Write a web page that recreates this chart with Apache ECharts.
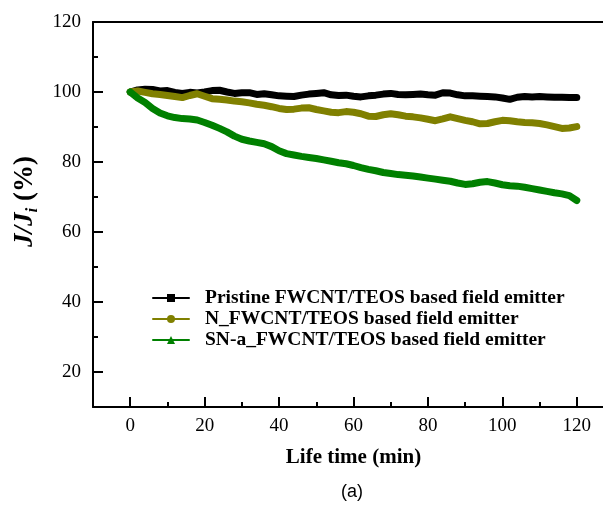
<!DOCTYPE html>
<html>
<head>
<meta charset="utf-8">
<script src="https://cdn.jsdelivr.net/npm/echarts@6/dist/echarts.min.js"></script>
<style>
html,body{margin:0;padding:0;background:#fff;overflow:hidden;width:603px;height:511px;}
#chart{width:614px;height:511px;}
</style>
</head>
<body>
<div id="chart"></div>
<script>
// ---- data ----
const times = [0,2,4,6,8,10,12,14,16,18,20,22,24,26,28,30,32,34,36,38,40,42,44,46,48,50,52,54,56,58,60,62,64,66,68,70,72,74,76,78,80,82,84,86,88,90,92,94,96,98,100,102,104,106,108,110,112,114,116,118,120];
const pristine = [100,100.6,100.8,100.7,100.3,100.4,99.9,99.6,99.9,99.7,100.0,100.4,100.5,100.0,99.6,99.8,99.8,99.3,99.5,99.2,98.9,98.8,98.7,99.1,99.4,99.6,99.8,99.2,99.0,99.1,98.8,98.6,98.9,99.1,99.4,99.6,99.3,99.2,99.3,99.4,99.2,99.1,99.8,99.7,99.2,98.9,98.9,98.8,98.7,98.6,98.3,97.9,98.5,98.7,98.6,98.7,98.6,98.5,98.5,98.4,98.4];
const nFwcnt = [100,100.3,99.9,99.5,99.3,99.0,98.7,98.4,99.0,99.5,98.8,98.1,97.9,97.7,97.4,97.2,96.9,96.5,96.2,95.8,95.3,95.0,95.1,95.4,95.5,95.0,94.6,94.2,94.1,94.4,94.2,93.8,93.1,93.0,93.5,93.8,93.5,93.1,92.9,92.6,92.2,91.8,92.3,92.9,92.4,91.9,91.5,90.9,91.0,91.5,91.9,91.8,91.5,91.3,91.2,91.0,90.6,90.1,89.6,89.7,90.1];
const snaFwcnt = [100,98.3,97.0,95.3,94.0,93.2,92.7,92.4,92.3,92.0,91.3,90.5,89.6,88.6,87.4,86.5,86.0,85.6,85.2,84.4,83.2,82.4,82.0,81.6,81.3,81.0,80.6,80.2,79.8,79.5,79.0,78.4,77.9,77.5,77.0,76.7,76.4,76.2,76.0,75.7,75.4,75.1,74.8,74.5,74.0,73.6,73.8,74.2,74.4,74.0,73.5,73.2,73.1,72.8,72.4,72.0,71.6,71.2,70.9,70.4,69.0];
const seriesNames = ['Pristine FWCNT/TEOS based field emitter','N_FWCNT/TEOS based field emitter','SN-a_FWCNT/TEOS based field emitter'];
const xTickLabels = [0,20,40,60,80,100,120];
const yTickLabels = [20,40,60,80,100,120];
const xRange = [-10, 130];
const yRange = [10, 120];
const tickStep = 20;

const serif = '"Liberation Serif","Times New Roman",serif';
const pair = (vals) => times.map((t, i) => [t, vals[i]]);

// layout of the plot box (pixels); the chart is a bit wider than the window so the right edge is cut off
const W = 614, H = 511;
const gLeft = 93, gTop = 22, gRight = 0, gBottom = 104;
const pxPerX = (W - gLeft - gRight) / (xRange[1] - xRange[0]);
const pxPerY = (H - gTop - gBottom) / (yRange[1] - yRange[0]);
const majXLeft = gLeft + (xTickLabels[0] - xRange[0]) * pxPerX;
const majYBottom = gBottom + (yTickLabels[0] - yRange[0]) * pxPerY;
const majLen = 10, minLen = 5;

const chart = echarts.init(document.getElementById('chart'), null, {renderer:'canvas'});
const axLine = {show:true, onZero:false, lineStyle:{color:'#000', width:2}};
const noLine = {show:false, onZero:false};
const tick = (len) => ({show:true, inside:true, length:len, lineStyle:{color:'#000', width:2}});
const hidden = (grid, min, max) => ({type:'value', gridIndex:grid, min:min, max:max, show:false, splitLine:{show:false}});
// x tick strips: short grids sitting on the x axis whose split lines act as the tick marks
const tickStripX = (grid, min) => ({type:'value', gridIndex:grid, min:min, max:xRange[1], interval:tickStep,
  axisLine:noLine, axisTick:{show:false}, axisLabel:{show:false},
  splitLine:{show:true, showMinLine:true, showMaxLine:true, lineStyle:{color:'#000', width:2}}});

chart.setOption({
  animation:false,
  backgroundColor:'#fff',
  grid:[
    {left:gLeft, top:gTop, right:gRight, bottom:gBottom},
    {left:majXLeft, top:H - gBottom - majLen, right:gRight, bottom:gBottom},
    {left:gLeft, top:gTop, right:gRight, bottom:majYBottom},
    {left:gLeft, top:H - gBottom - minLen, right:gRight, bottom:gBottom}
  ],
  legend:{
    orient:'vertical', left:147, top:283,
    itemWidth:36, itemHeight:10, itemGap:1,
    lineStyle:{width:2},
    textStyle:{fontFamily:serif, fontWeight:'bold', fontSize:19.5, color:'#000', padding:[0,0,0,11]},
    data:seriesNames
  },
  xAxis:[
    {type:'value', gridIndex:0, min:xRange[0], max:xRange[1], interval:tickStep, position:'bottom',
     axisLine:axLine, axisTick:{show:false},
     axisLabel:{customValues:xTickLabels, fontFamily:serif, fontSize:19, color:'#000', margin:10},
     splitLine:{show:false},
     name:'Life time (min)', nameLocation:'middle', nameGap:40,
     nameTextStyle:{fontFamily:serif, fontWeight:'bold', fontSize:21, color:'#000'}},
    {type:'value', gridIndex:0, min:xRange[0], max:xRange[1], position:'top',
     axisLine:axLine, axisTick:{show:false}, axisLabel:{show:false}, splitLine:{show:false}},
    tickStripX(1, xTickLabels[0]),
    hidden(2, xRange[0], xRange[1]),
    tickStripX(3, xRange[0])
  ],
  yAxis:[
    {type:'value', gridIndex:0, min:yRange[0], max:yRange[1], interval:tickStep, position:'left',
     axisLine:axLine, axisTick:tick(minLen),
     axisLabel:{customValues:yTickLabels, fontFamily:serif, fontSize:19, color:'#000', margin:12},
     splitLine:{show:false},
     name:'{b|J/J}{s|i}{n| (%)}', nameLocation:'middle', nameGap:48, nameRotate:90,
     nameTextStyle:{
       fontFamily:serif, fontSize:26, color:'#000', padding:[0,0,0,26],
       rich:{
         b:{fontFamily:serif, fontSize:27, fontWeight:'bold', fontStyle:'italic', color:'#000', lineHeight:34, verticalAlign:'middle'},
         s:{fontFamily:serif, fontSize:17, fontWeight:'bold', fontStyle:'italic', color:'#000', lineHeight:18, verticalAlign:'bottom'},
         n:{fontFamily:serif, fontSize:27, fontWeight:'bold', color:'#000', lineHeight:34, verticalAlign:'middle'}
       }
     }},
    hidden(1, 0, 1),
    {type:'value', gridIndex:2, min:yTickLabels[0], max:yRange[1], interval:tickStep, position:'left',
     axisLine:noLine, axisTick:tick(majLen), axisLabel:{show:false}, splitLine:{show:false}},
    hidden(3, 0, 1)
  ],
  graphic:[{
    type:'text', left:341, top:483,
    style:{text:'(a)', font:'18px "Liberation Sans", Arial, sans-serif', fill:'#000'}
  }],
  series:[
    {name:seriesNames[0], type:'line', xAxisIndex:0, yAxisIndex:0, data:pair(pristine), showSymbol:false, symbol:'rect', symbolSize:9,
     color:'#000000', lineStyle:{width:7, color:'#000000', join:'round', cap:'round'}},
    {name:seriesNames[1], type:'line', xAxisIndex:0, yAxisIndex:0, data:pair(nFwcnt), showSymbol:false, symbol:'circle', symbolSize:8,
     color:'#808000', lineStyle:{width:7, color:'#808000', join:'round', cap:'round'}},
    {name:seriesNames[2], type:'line', xAxisIndex:0, yAxisIndex:0, data:pair(snaFwcnt), showSymbol:false, symbol:'triangle', symbolSize:9,
     color:'#008000', lineStyle:{width:7, color:'#008000', join:'round', cap:'round'}}
  ]
});
</script>
</body>
</html>
